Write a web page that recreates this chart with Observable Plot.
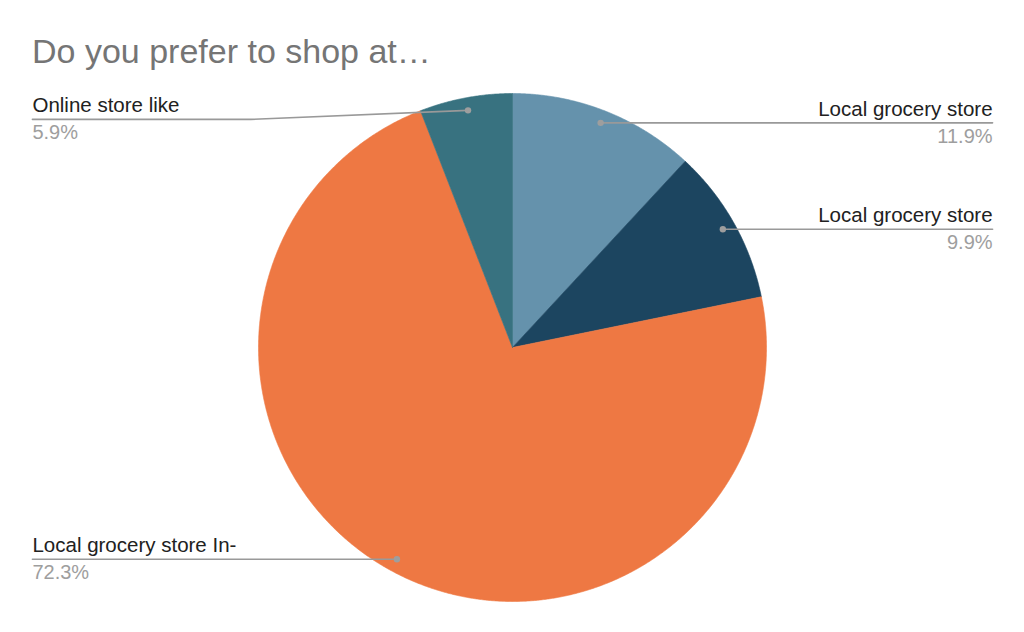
<!DOCTYPE html>
<html>
<head>
<meta charset="utf-8">
<script src="https://cdn.jsdelivr.net/npm/d3@7"></script>
<script src="https://cdn.jsdelivr.net/npm/@observablehq/plot@0.6"></script>
<style>
  html, body { margin: 0; padding: 0; background: #fff; }
  #title { height: 75px; box-sizing: border-box; padding: 35px 0 0 32px; font-family: "Liberation Sans", Arial, sans-serif; font-size: 34px; line-height: 32px; color: #757575; white-space: nowrap; }
  svg { display: block; }
</style>
</head>
<body>
<div id="title">Do you prefer to shop at…</div>
<div id="chart"></div>
<script>
// ---- data ----
const categories = ["Local grocery store", "Local grocery store", "Local grocery store In-", "Online store like"];
const values = [11.9, 9.9, 72.3, 5.9];
const percentLabels = ["11.9%", "9.9%", "72.3%", "5.9%"];
const colors = ["#6592ac", "#1c4560", "#ee7843", "#387280"];

// ---- build slices (angles clockwise from top) ----
const total = d3.sum(values);
let acc = 0;
const slices = values.map((v, i) => {
  const a0 = acc / total * 2 * Math.PI;
  acc += v;
  const a1 = acc / total * 2 * Math.PI;
  return {i, key: "s" + i, label: categories[i], pct: percentLabels[i], color: colors[i], a0, a1, mid: (a0 + a1) / 2};
});

const polys = [];
for (const s of slices) {
  polys.push({key: s.key, color: s.color, x: 0, y: 0});
  const n = Math.max(2, Math.ceil((s.a1 - s.a0) / 0.005));
  for (let k = 0; k <= n; k++) {
    const a = s.a0 + (s.a1 - s.a0) * k / n;
    polys.push({key: s.key, color: s.color, x: Math.sin(a), y: Math.cos(a)});
  }
  polys.push({key: s.key, color: s.color, x: 0, y: 0});
}

// ---- labels & leaders ----
const dotR = 0.95, topLimit = 0.898, elbow = 1.03, endX = 1.89;
const labels = slices.map(s => {
  const dx = Math.sin(s.mid) * dotR, dy = Math.cos(s.mid) * dotR;
  const side = dx >= 0 ? 1 : -1;
  const ly = Math.min(dy, topLimit);
  return {...s, dx, dy, side, ly, ex: side * endX};
});
const leaders = [];
for (const l of labels) {
  leaders.push({key: l.key, x: l.dx, y: l.dy});
  if (Math.abs(l.dy - l.ly) > 1e-6) leaders.push({key: l.key, x: l.side * elbow, y: l.ly});
  leaders.push({key: l.key, x: l.ex, y: l.ly});
}
const right = labels.filter(d => d.side > 0);
const left = labels.filter(d => d.side < 0);

const font = "Liberation Sans, Arial, sans-serif";
const chart = Plot.plot({
  width: 1024,
  height: 557,
  margin: 0,
  style: {fontFamily: font, background: "#fff"},
  x: {domain: [-1, 1], range: [258, 766], axis: null},
  y: {domain: [-1, 1], range: [526, 18], axis: null},
  color: {type: "identity"},
  marks: [
    Plot.line(polys, {x: "x", y: "y", z: "key", fill: "color", stroke: "color", strokeWidth: 0.6, curve: "linear"}),
    Plot.line(leaders, {x: "x", y: "y", z: "key", stroke: "#999999", strokeWidth: 1.6}),
    Plot.dot(labels, {x: "dx", y: "dy", r: 3.2, fill: "#9e9e9e", stroke: "none"}),
    Plot.text(right, {x: "ex", y: "ly", text: "label", textAnchor: "end", lineAnchor: "bottom", dy: -7, fontSize: 20.5, fill: "#212121"}),
    Plot.text(left, {x: "ex", y: "ly", text: "label", textAnchor: "start", lineAnchor: "bottom", dy: -7, fontSize: 20.5, fill: "#212121"}),
    Plot.text(right, {x: "ex", y: "ly", text: "pct", textAnchor: "end", lineAnchor: "bottom", dy: 20, fontSize: 20, fill: "#9e9e9e"}),
    Plot.text(left, {x: "ex", y: "ly", text: "pct", textAnchor: "start", lineAnchor: "bottom", dy: 20, fontSize: 20, fill: "#9e9e9e"})
  ]
});
document.getElementById("chart").append(chart);
</script>
</body>
</html>
